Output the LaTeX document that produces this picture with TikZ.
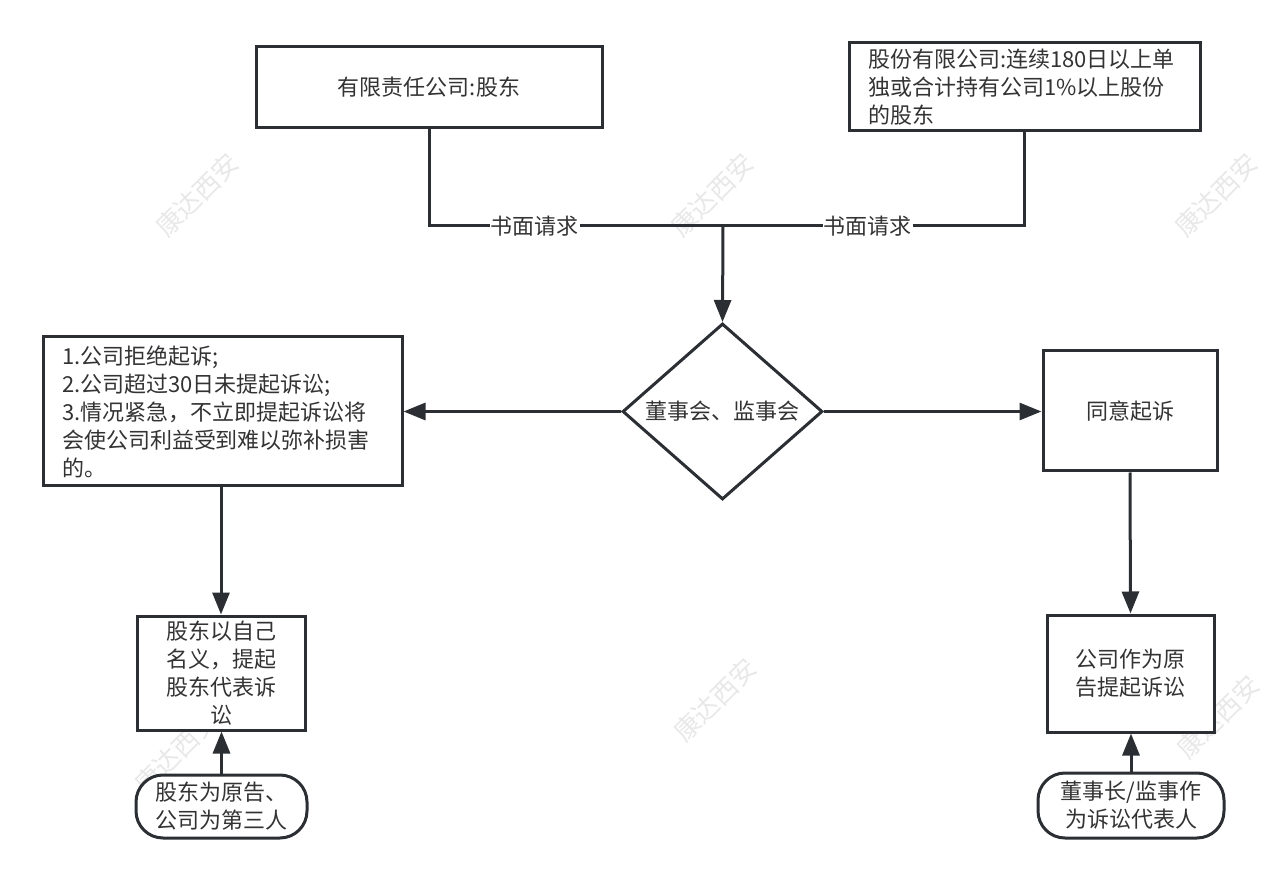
\documentclass[tikz,border=0pt]{standalone}
\usepackage{fontspec}
\newfontfamily\cjk{Noto Sans CJK SC}
\usetikzlibrary{shapes.geometric,arrows.meta}
\definecolor{linec}{HTML}{2B2F33}
\definecolor{textc}{HTML}{333333}
\definecolor{wmark}{HTML}{E8E8E8}
\begin{document}
\begin{tikzpicture}[x=1pt,y=-1pt,
  every node/.style={font=\cjk\fontsize{22}{28}\selectfont, text=textc},
  box/.style={draw=linec, fill=white, line width=3pt, rectangle, inner sep=0pt, align=center},
  lbox/.style={draw=linec, fill=white, line width=3pt, rectangle, inner ysep=0pt, align=left},
  pill/.style={draw=linec, fill=white, line width=3pt, rectangle, rounded corners=27pt, inner sep=0pt, align=center},
  conn/.style={draw=linec, line width=3pt},
  arr/.style={conn, -{Triangle[length=22pt,width=17pt]}},
  lbl/.style={fill=white, inner sep=1pt},
  wm/.style={text=wmark, rotate=45, inner sep=0pt, font=\cjk\fontsize{26}{30}\selectfont}
]
\useasboundingbox (0,0) rectangle (1267,882);
% watermarks
\node[wm] (w1) at (197,195) {康达西安};
\node[wm] (w2) at (712,195) {康达西安};
\node[wm] (w3) at (1216,195) {康达西安};
\node[wm] (w4) at (176,752) {康达西安};
\node[wm] (w5) at (715,700) {康达西安};
\node[wm] (w6) at (1218,717) {康达西安};
% nodes
\node[box, minimum width=346pt, minimum height=81pt] (A) at (429,87.5) {有限责任公司:股东};
\node[lbox, inner xsep=19pt, text width=313pt, minimum height=88pt] (B) at (1024.5,87) {股份有限公司:连续180日以上单\\独或合计持有公司1\%以上股份\\的股东};
\node[diamond, draw=linec, fill=white, line width=3pt, inner sep=0pt, minimum width=200pt, minimum height=176pt, aspect=1.136] (Dm) at (722.5,411.5) {董事会、监事会};
\node[lbox, inner xsep=19pt, text width=321pt, minimum height=149pt] (C) at (222.5,411.5) {1.公司拒绝起诉;\\2.公司超过30日未提起诉讼;\\3.情况紧急，不立即提起诉讼将\\会使公司利益受到难以弥补损害\\的。};
\node[box, minimum width=174pt, minimum height=120pt] (D) at (1130,411) {同意起诉};
\node[box, minimum width=168pt, minimum height=114pt] (E) at (221,673) {股东以自己\\名义，提起\\股东代表诉\\讼};
\node[box, minimum width=167pt, minimum height=117pt] (G) at (1130.5,673.5) {公司作为原\\告提起诉讼};
\node[pill, minimum width=171pt, minimum height=63pt] (F) at (221.5,806.5) {股东为原告、\\公司为第三人};
\node[pill, minimum width=186pt, minimum height=65pt] (H) at (1131,805.5) {董事长/监事作\\为诉讼代表人};
% junction
\coordinate (J) at (723,226);
\draw[conn] (A.south) -- (A.south |- J) -- node[lbl, pos=0.36] (L1) {书面请求} (J);
\draw[conn] (B.south) -- (B.south |- J) -- node[lbl, pos=0.52] (L2) {书面请求} (J);
\draw[arr] (J) -- (Dm.north);
\draw[arr] (Dm.west) -- (C.east |- Dm.west);
\draw[arr] (Dm.east) -- (D.west |- Dm.east);
\draw[arr] (C.south -| E.north) -- (E.north);
\draw[arr] (D.south) -- (G.north);
\draw[arr] (F.north) -- (E.south -| F.north);
\draw[arr] (H.north) -- (G.south -| H.north);
\end{tikzpicture}
\end{document}
